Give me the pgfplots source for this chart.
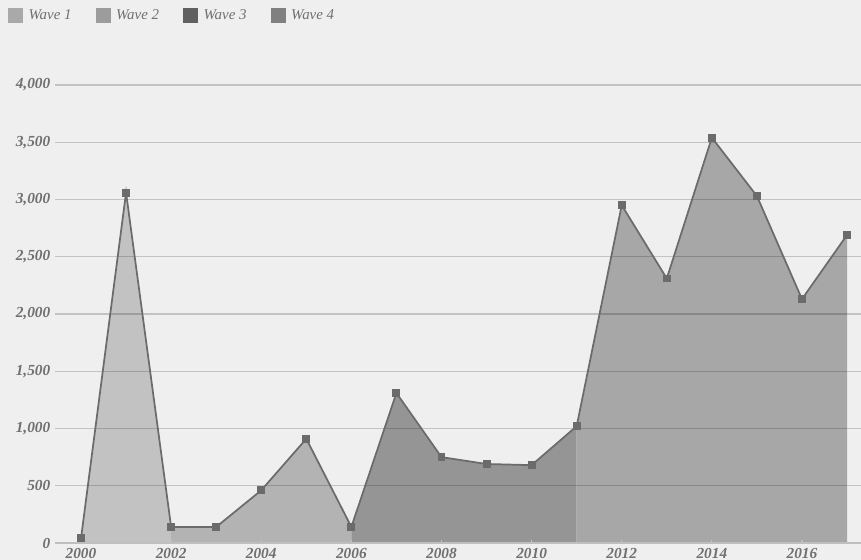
\documentclass[border=0pt]{standalone}
\usepackage{pgfplots}
\pgfplotsset{compat=1.18}
\usepackage{pgfplotstable}
\usepackage{fontspec}
\setmainfont{Liberation Serif}

\definecolor{bgc}{HTML}{EFEFEF}
\definecolor{fillA}{HTML}{C2C2C2}
\definecolor{fillB}{HTML}{B3B3B3}
\definecolor{fillC}{HTML}{959595}
\definecolor{fillD}{HTML}{A7A7A7}
\definecolor{sqA}{HTML}{A9A9A9}
\definecolor{sqB}{HTML}{9C9C9C}
\definecolor{sqC}{HTML}{606060}
\definecolor{sqD}{HTML}{808080}
\definecolor{linec}{HTML}{6B6B6B}
\definecolor{labc}{HTML}{707070}

% yearly counts, split by wave
\pgfplotstableread{
year value
2000 40
2001 3060
2002 140
}\waveA
\pgfplotstableread{
year value
2002 140
2003 140
2004 460
2005 910
2006 140
}\waveB
\pgfplotstableread{
year value
2006 140
2007 1310
2008 750
2009 690
2010 680
2011 1020
}\waveC
\pgfplotstableread{
year value
2011 1020
2012 2950
2013 2310
2014 3540
2015 3030
2016 2130
2017 2690
}\waveD
\pgfplotstableread{
year value
2000 40
2001 3060
2002 140
2003 140
2004 460
2005 910
2006 140
2007 1310
2008 750
2009 690
2010 680
2011 1020
2012 2950
2013 2310
2014 3540
2015 3030
2016 2130
2017 2690
}\allwaves

\begin{document}
\begin{tikzpicture}
\begin{axis}[
  set layers=standard,
  scale only axis,
  width=604.5pt, height=343.5pt,
  xmin=1999.423, xmax=2017.31,
  ymin=0, ymax=4000,
  axis x line*=bottom,
  axis y line*=left,
  y axis line style={draw=none},
  x axis line style={draw=black!25, line width=1pt},
  xtick={2000,2002,...,2016},
  ytick={0,500,...,4000},
  x tick style={draw=black!25, line width=0.8pt},
  major tick length=2pt,
  y tick style={draw=none},
  ymajorgrids,
  grid style={draw=black, draw opacity=0.18, line width=1pt},
  xticklabel={\pgfmathprintnumber[1000 sep={}]{\tick}},
  /pgf/number format/.cd, 1000 sep={,}, assume math mode=true,
  /pgfplots/.cd,
  ticklabel style={font=\fontsize{11.5}{13}\selectfont\itshape\bfseries, text=labc},
  xticklabel style={anchor=center, yshift=-8pt},
  legend style={at={(axis description cs:-0.0635,1.1767)}, anchor=north west,
    draw=none, fill=none, legend columns=-1,
    font=\fontsize{11.2}{13}\selectfont\itshape, text=labc,
    /tikz/every even column/.append style={column sep=16pt},
    /tikz/every odd column/.append style={column sep=0pt}},
  legend cell align=left,
]
% page background, kept beneath the grid and the wave areas
\begin{pgfonlayer}{axis background}
\fill[bgc] (axis description cs:-0.0683,-0.0371) rectangle (axis description cs:1,1.1856);
\end{pgfonlayer}
\addplot[draw=none, fill=fillA, on layer=axis background, forget plot] table[x=year,y=value] {\waveA} \closedcycle;
\addplot[draw=none, fill=fillB, on layer=axis background, forget plot] table[x=year,y=value] {\waveB} \closedcycle;
\addplot[draw=none, fill=fillC, on layer=axis background, forget plot] table[x=year,y=value] {\waveC} \closedcycle;
\addplot[draw=none, fill=fillD, on layer=axis background, forget plot] table[x=year,y=value] {\waveD} \closedcycle;
\addplot[linec, line width=1.3pt, mark=square*, mark size=2.6pt,
  mark options={fill=linec, draw=linec, line width=0pt}, forget plot]
  table[x=year,y=value] {\allwaves};

\addlegendimage{legend image code/.code={\fill[sqA] (0pt,-5.25pt) rectangle (10.5pt,5.25pt);}}
\addlegendentry{\hspace{2.5pt}Wave 1}
\addlegendimage{legend image code/.code={\fill[sqB] (0pt,-5.25pt) rectangle (10.5pt,5.25pt);}}
\addlegendentry{\hspace{2.5pt}Wave 2}
\addlegendimage{legend image code/.code={\fill[sqC] (0pt,-5.25pt) rectangle (10.5pt,5.25pt);}}
\addlegendentry{\hspace{2.5pt}Wave 3}
\addlegendimage{legend image code/.code={\fill[sqD] (0pt,-5.25pt) rectangle (10.5pt,5.25pt);}}
\addlegendentry{\hspace{2.5pt}Wave 4}
\end{axis}
\pgfresetboundingbox
\useasboundingbox (-41.25pt,-12.75pt) rectangle (604.5pt,407.25pt);
\end{tikzpicture}
\end{document}
